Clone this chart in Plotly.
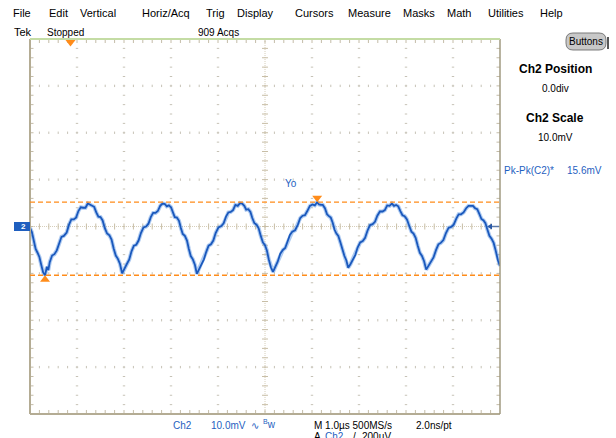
import plotly.graph_objects as go

# ---------------- data read from the screen ----------------
# main samples of the Ch2 trace (µs, mV)
time_us = [-5.00, -4.92, -4.84, -4.76, -4.68, -4.64, -4.61, -4.58, -4.48, -4.38, -4.28, -4.17, -4.07,
           -3.97, -3.87, -3.77, -3.68, -3.59, -3.50, -3.41, -3.31, -3.22, -3.13, -3.04, -2.99, -2.94,
           -2.84, -2.74, -2.64, -2.53, -2.43, -2.33, -2.23, -2.13, -2.045, -1.96, -1.875, -1.79,
           -1.705, -1.62, -1.535, -1.45, -1.40, -1.35, -1.25, -1.15, -1.05, -0.93, -0.83, -0.73,
           -0.63, -0.53, -0.44, -0.355, -0.27, -0.18, -0.09, 0.00, 0.08, 0.17, 0.22, 0.27, 0.38,
           0.48, 0.58, 0.70, 0.80, 0.90, 1.01, 1.11, 1.19, 1.275, 1.36, 1.44, 1.52, 1.605, 1.69,
           1.77, 1.82, 1.87, 1.97, 2.08, 2.18, 2.29, 2.39, 2.50, 2.60, 2.70, 2.79, 2.88, 2.97, 3.07,
           3.16, 3.25, 3.34, 3.43, 3.48, 3.53, 3.64, 3.74, 3.85, 3.96, 4.07, 4.17, 4.28, 4.38, 4.47,
           4.56, 4.65, 4.73, 4.82, 4.91, 5.00]
ch2_mv = [-0.3, -3.0, -5.6, -8.2, -10.4, -8.6, -9.3, -7.6, -5.9, -3.4, -2.0, 0.4, 1.5,
          3.3, 4.0, 4.9, 4.5, 3.0, 2.0, -0.3, -1.9, -4.7, -6.9, -10.0, -8.9, -8.0,
          -5.3, -3.9, -1.4, 0.0, 2.0, 2.9, 4.4, 4.8, 4.5, 3.0, 1.9, -0.3,
          -2.0, -4.8, -7.0, -10.1, -9.0, -7.9, -5.4, -3.8, -1.4, 0.1, 2.1, 3.1,
          4.6, 5.0, 4.4, 3.7, 1.8, 0.4, -2.0, -4.0, -7.0, -9.7, -8.6, -7.5, -5.0,
          -3.4, -1.1, 0.4, 2.3, 3.3, 4.7, 5.2, 4.6, 3.9, 2.2, 0.8, -1.5, -3.4, -6.3,
          -8.8, -8.0, -6.9, -4.5, -3.1, -0.9, 0.5, 2.3, 3.2, 4.5, 4.9, 4.6, 3.3, 2.2, 0.1,
          -1.5, -4.1, -6.3, -9.2, -8.3, -7.3, -5.0, -3.5, -1.4, -0.1, 1.7, 2.6, 3.9, 4.4, 3.9,
          2.7, 1.3, -0.6, -2.6, -5.2, -8.4]
# in-between samples (the visible noise on the trace)
time_us_mid = [-4.96, -4.88, -4.80, -4.72, -4.53, -4.43, -4.33, -4.22, -4.12, -4.02, -3.92, -3.82,
               -3.72, -3.635, -3.545, -3.455, -3.36, -3.265, -3.175, -3.085, -2.89, -2.79, -2.69,
               -2.585, -2.48, -2.38, -2.28, -2.18, -2.09, -2.00, -1.92, -1.83, -1.75, -1.66, -1.58,
               -1.49, -1.30, -1.20, -1.10, -0.99, -0.88, -0.78, -0.68, -0.58, -0.485, -0.40, -0.31,
               -0.225, -0.135, -0.045, 0.04, 0.125, 0.325, 0.43, 0.53, 0.64, 0.75, 0.85, 0.955,
               1.06, 1.15, 1.23, 1.32, 1.40, 1.48, 1.56, 1.65, 1.73, 1.92, 2.025, 2.13, 2.235,
               2.34, 2.445, 2.55, 2.65, 2.745, 2.835, 2.925, 3.02, 3.115, 3.205, 3.295, 3.385,
               3.585, 3.69, 3.795, 3.905, 4.015, 4.12, 4.225, 4.33, 4.425, 4.515, 4.605, 4.69,
               4.775, 4.865, 4.955]
ch2_mv_mid = [-1.2, -4.8, -6.5, -9.8, -6.2, -5.1, -2.2, -1.3, 1.5, 1.9, 4.1, 4.0,
              4.6, 4.2, 2.1, 1.3, -1.5, -2.8, -6.2, -8.0, -7.1, -4.1, -3.0,
              -0.2, 0.6, 2.9, 3.3, 4.9, 4.3, 4.1, 2.0, 1.2, -1.6, -3.0, -6.3,
              -8.2, -7.0, -4.1, -3.0, -0.2, 0.7, 3.0, 3.5, 4.4, 4.9, 3.6, 3.1,
              0.7, -0.4, -3.4, -5.1, -8.7, -5.8, -4.6, -1.8, -0.8, 1.8, 2.4, 4.4,
              4.5, 4.7, 4.6, 2.6, 1.9, -0.7, -2.0, -5.3, -7.2, -6.1, -3.4, -2.4, 0.3,
              1.0, 3.2, 3.5, 4.4, 4.4, 4.3, 2.4, 1.5, -1.1, -2.4, -5.6, -7.4,
              -6.6, -3.8, -2.9, -0.3, 0.4, 2.6, 3.0, 4.4, 4.4, 3.7, 1.6, 0.7,
              -2.0, -3.5, -7.2]
cursor_levels_mv = [5.2, -10.4]

menu_items = ["File", "Edit", "Vertical", "Horiz/Acq", "Trig", "Display", "Cursors",
              "Measure", "Masks", "Math", "Utilities", "Help"]
status_texts = ["Tek", "Stopped", "909 Acqs"]
panel_texts = ["Ch2 Position", "0.0div", "Ch2 Scale", "10.0mV"]
meas_label = "Pk-Pk(C2)*"
meas_value = "15.6mV"
trace_label = "Yo"

# merge the samples in time order
samples = sorted(zip(time_us + time_us_mid, ch2_mv + ch2_mv_mid))
trace_t = [s[0] for s in samples]
trace_v = [s[1] for s in samples]

# ---------------- layout constants (pixels) ----------------
W, H = 616, 438
X0, X1, Y0, Y1 = 30, 500, 39, 414
menu_x = [22, 58, 98, 166, 215, 255, 314, 369, 419, 459, 506, 551]


def PX(x):
    return (x - X0) / (X1 - X0)


def PY(y):
    return (Y1 - y) / (Y1 - Y0)


def seg_path(segs):
    return " ".join(f"M{PX(a):.5f},{PY(b):.5f} L{PX(c):.5f},{PY(d):.5f}" for a, b, c, d in segs)


shapes = []


def add_path(segs, color, width=1, dash=None):
    line = dict(color=color, width=width)
    if dash:
        line["dash"] = dash
    shapes.append(dict(type="path", xref="paper", yref="paper", path=seg_path(segs), line=line, layer="below"))


DX = (X1 - X0) / 50.0
DY = (Y1 - Y0) / 40.0
GX = (X1 - X0) / 10.0
GY = (Y1 - Y0) / 8.0
cx = X0 + 5 * GX
cy = Y0 + 4 * GY

# dotted graticule lines
dots = []
for i in range(1, 10):
    if i == 5:
        continue
    x = X0 + i * GX
    for k in range(1, 40):
        y = Y0 + k * DY
        dots.append((x - 1.2, y, x + 1.2, y))
for j in range(1, 8):
    if j == 4:
        continue
    y = Y0 + j * GY
    for k in range(1, 50):
        x = X0 + k * DX
        dots.append((x, y - 1.2, x, y + 1.2))
add_path(dots, "#c6c2b6", 1)

# centre cross lines
shapes.append(dict(type="line", xref="paper", yref="paper", x0=0, x1=1, y0=PY(cy), y1=PY(cy),
                   line=dict(color="#d6ceba", width=1, dash="1px,1px"), layer="below"))
shapes.append(dict(type="line", xref="paper", yref="paper", x0=PX(cx), x1=PX(cx), y0=0, y1=1,
                   line=dict(color="#d6ceba", width=1, dash="1px,1px"), layer="below"))
cticks = []
for k in range(1, 50):
    x = X0 + k * DX
    cticks.append((x, cy - 3, x, cy + 3))
for k in range(1, 40):
    y = Y0 + k * DY
    cticks.append((cx - 3, y, cx + 3, y))
add_path(cticks, "#c8bea6", 1)

# border minor ticks
bticks = []
for k in range(1, 50):
    x = X0 + k * DX
    bticks.append((x, Y1, x, Y1 - 4))
    bticks.append((x, Y0, x, Y0 + 4))
for k in range(1, 40):
    y = Y0 + k * DY
    bticks.append((X0, y, X0 + 3.5, y))
    bticks.append((X1, y, X1 - 3.5, y))
add_path(bticks, "#c4bca8", 1)

# borders
shapes.append(dict(type="line", xref="paper", yref="paper", x0=0, x1=0, y0=0, y1=1,
                   line=dict(color="#b4ac94", width=2)))
shapes.append(dict(type="line", xref="paper", yref="paper", x0=0, x1=1, y0=0, y1=0,
                   line=dict(color="#b4ac94", width=2)))
shapes.append(dict(type="line", xref="paper", yref="paper", x0=1, x1=1, y0=0, y1=1,
                   line=dict(color="#a09a80", width=1.5)))
shapes.append(dict(type="line", xref="paper", yref="paper", x0=0, x1=1, y0=1, y1=1,
                   line=dict(color="#c4dca4", width=2)))

# cursors
ORANGE = "#ff8c1a"
for lv in cursor_levels_mv:
    shapes.append(dict(type="line", xref="paper", yref="y", x0=0, x1=1, y0=lv, y1=lv,
                       line=dict(color=ORANGE, width=1.3, dash="5px,3px")))


def tri(xc, ybase, yapex, half=5):
    return (f"M{PX(xc - half):.5f},{PY(ybase):.5f} L{PX(xc + half):.5f},{PY(ybase):.5f} "
            f"L{PX(xc):.5f},{PY(yapex):.5f} Z")


def t2px(t):
    return cx + t * GX


def v2py(v):
    return cy - v * GY / 10.0


imax = max(range(len(trace_v)), key=lambda i: trace_v[i])
imin = min(range(len(trace_v)), key=lambda i: trace_v[i])
ytop = v2py(cursor_levels_mv[0])
ybot = v2py(cursor_levels_mv[1])
for p in [tri(70.5, 40, 46.5, 5), tri(t2px(trace_t[imax]), ytop - 6.5, ytop, 5),
          tri(t2px(trace_t[imin]), ybot + 6.5, ybot, 5)]:
    shapes.append(dict(type="path", xref="paper", yref="paper", path=p,
                       fillcolor=ORANGE, line=dict(width=0)))

# ch2 ground marker on the left
BLUE = "#1f5fbf"
shapes.append(dict(type="rect", xref="paper", yref="paper", x0=PX(14), x1=PX(30), y0=PY(231), y1=PY(222),
                   fillcolor=BLUE, line=dict(width=0)))
# trigger level arrow on the right
shapes.append(dict(type="line", xref="paper", yref="paper", x0=PX(490), x1=PX(499), y0=PY(cy), y1=PY(cy),
                   line=dict(color="#5a78a8", width=1.5)))
shapes.append(dict(type="path", xref="paper", yref="paper",
                   path=f"M{PX(487):.5f},{PY(cy):.5f} L{PX(492):.5f},{PY(cy - 3):.5f} L{PX(492):.5f},{PY(cy + 3):.5f} Z",
                   fillcolor="#2b5aa8", line=dict(width=0)))

# Buttons button
bx0, bx1, by0, by1, r = 566, 606, 33, 50, 7
bpath = (f"M{PX(bx0 + r):.5f},{PY(by0):.5f} L{PX(bx1 - r):.5f},{PY(by0):.5f} "
         f"Q{PX(bx1):.5f},{PY(by0):.5f} {PX(bx1):.5f},{PY(by0 + r):.5f} "
         f"L{PX(bx1):.5f},{PY(by1 - r):.5f} Q{PX(bx1):.5f},{PY(by1):.5f} {PX(bx1 - r):.5f},{PY(by1):.5f} "
         f"L{PX(bx0 + r):.5f},{PY(by1):.5f} Q{PX(bx0):.5f},{PY(by1):.5f} {PX(bx0):.5f},{PY(by1 - r):.5f} "
         f"L{PX(bx0):.5f},{PY(by0 + r):.5f} Q{PX(bx0):.5f},{PY(by0):.5f} {PX(bx0 + r):.5f},{PY(by0):.5f} Z")
shapes.append(dict(type="path", xref="paper", yref="paper", path=bpath,
                   fillcolor="#c8c8c8", line=dict(color="#7a7a7a", width=1)))
shapes.append(dict(type="line", xref="paper", yref="paper", x0=PX(608), x1=PX(608), y0=PY(37), y1=PY(49),
                   line=dict(color="#202020", width=1.5)))

# ---------------- annotations ----------------
FONT = "Liberation Sans, Arial, sans-serif"
annotations = []


def ann(text, x, y, size=10, color="#000000", anchor="center", bold=False, family=FONT):
    if bold:
        text = f"<b>{text}</b>"
    annotations.append(dict(text=text, x=PX(x), y=PY(y), xref="paper", yref="paper", showarrow=False,
                            xanchor=anchor, yanchor="middle", font=dict(size=size, color=color, family=family)))


for name, mx in zip(menu_items, menu_x):
    ann(name, mx, 13, 11)
ann(status_texts[0], 12, 32, 11, anchor="left")
ann(status_texts[1], 45, 32, 10, anchor="left")
ann(status_texts[2], 196, 32, 10, anchor="left")
ann("Buttons", 586, 41.5, 10)
ann(panel_texts[0], 555, 69, 12, bold=True)
ann(panel_texts[1], 555, 89, 10)
ann(panel_texts[2], 555, 118, 12, bold=True)
ann(panel_texts[3], 555, 137, 10)
ann(meas_label, 502, 170, 10, color=BLUE, anchor="left")
ann(meas_value, 565, 170, 10, color=BLUE, anchor="left")
ann(trace_label, 283, 183, 10, color=BLUE, anchor="left")
ann("2", 23, 226.5, 8, color="#ffffff", bold=True)

ann("Ch2", 171, 425, 10, color=BLUE, anchor="left")
ann("10.0mV", 209, 425, 10, color=BLUE, anchor="left")
ann("∿", 249, 425, 10, color=BLUE, anchor="left", family="DejaVu Sans")
ann("<sup>B</sup>w", 261, 424, 10, color=BLUE, anchor="left")
ann("M 1.0µs 500MS/s", 312, 425, 10, anchor="left")
ann("2.0ns/pt", 414, 425, 10, anchor="left")
ann("A", 312, 436, 10, anchor="left")
ann("Ch2", 323, 436, 10, color=BLUE, anchor="left")
ann("/", 351, 436, 10, anchor="left")
ann("200µV", 360, 436, 10, anchor="left")

# ---------------- figure ----------------
fig = go.Figure()
fig.add_trace(go.Scatter(x=trace_t, y=trace_v, mode="lines", hoverinfo="skip",
                         line=dict(color="rgba(110,160,230,0.55)", width=4)))
fig.add_trace(go.Scatter(x=trace_t, y=trace_v, mode="lines", name="Ch2",
                         line=dict(color="#1a58bc", width=1.8)))

fig.update_layout(
    width=W, height=H,
    margin=dict(l=X0, r=W - X1, t=Y0, b=H - Y1, pad=0),
    paper_bgcolor="#ffffff", plot_bgcolor="#ffffff",
    showlegend=False,
    xaxis=dict(range=[-5, 5], showgrid=False, zeroline=False, showline=False, showticklabels=False,
               ticks="", fixedrange=True),
    yaxis=dict(range=[-40, 40], showgrid=False, zeroline=False, showline=False, showticklabels=False,
               ticks="", fixedrange=True),
    shapes=shapes,
    annotations=annotations,
)

fig.write_html("out.html", config={"displayModeBar": False},
               post_script="document.body.style.margin='0';document.body.style.overflow='hidden';")
